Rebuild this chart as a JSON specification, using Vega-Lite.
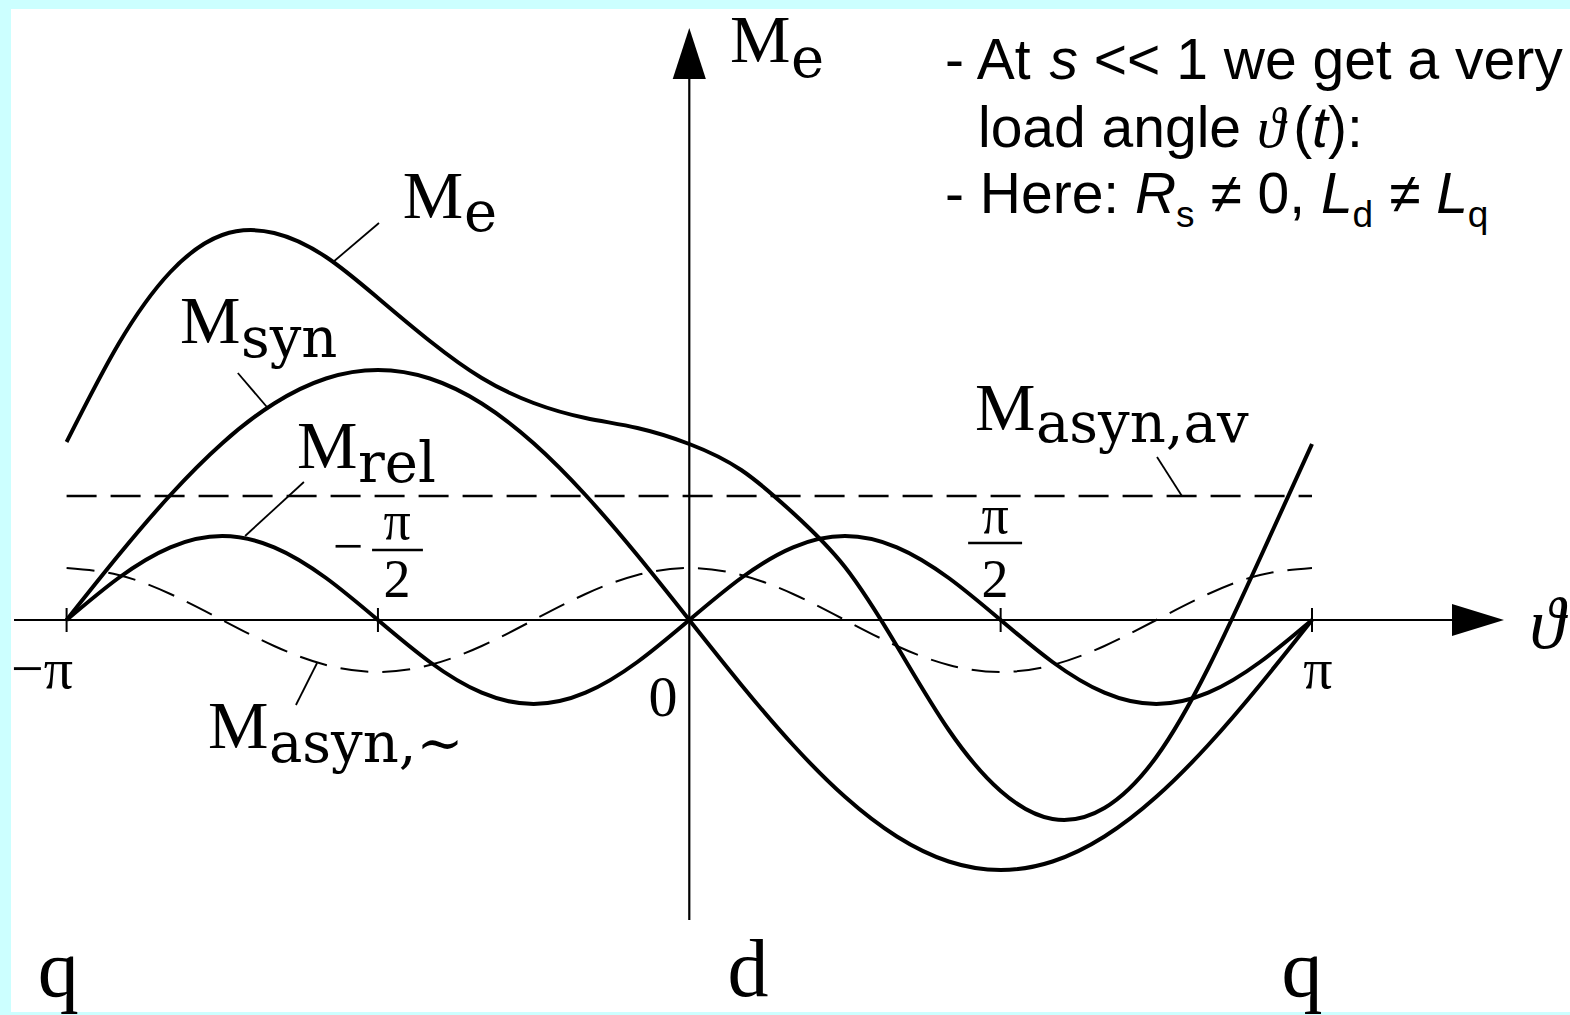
{
  "$schema": "https://vega.github.io/schema/vega-lite/v6.json",
  "width": 1559,
  "height": 1003,
  "autosize": {"type": "none"},
  "padding": {"left": 11, "top": 9, "right": 0, "bottom": 3},
  "background": "#ccffff",
  "config": {"view": {"fill": "white", "stroke": null}},
  "datasets": {
    "torque": [
      {"t": -180, "Me": 1.78, "syn": 0, "rel": 0, "asyn": 0.52},
      {"t": -165, "Me": 2.76, "syn": 0.647, "rel": 0.42, "asyn": 0.45},
      {"t": -150, "Me": 3.48, "syn": 1.25, "rel": 0.727, "asyn": 0.26},
      {"t": -135, "Me": 3.85, "syn": 1.768, "rel": 0.84, "asyn": 0},
      {"t": -120, "Me": 3.87, "syn": 2.165, "rel": 0.727, "asyn": -0.26},
      {"t": -105, "Me": 3.63, "syn": 2.415, "rel": 0.42, "asyn": -0.45},
      {"t": -90, "Me": 3.22, "syn": 2.5, "rel": 0, "asyn": -0.52},
      {"t": -75, "Me": 2.79, "syn": 2.415, "rel": -0.42, "asyn": -0.45},
      {"t": -60, "Me": 2.42, "syn": 2.165, "rel": -0.727, "asyn": -0.26},
      {"t": -45, "Me": 2.17, "syn": 1.768, "rel": -0.84, "asyn": 0},
      {"t": -30, "Me": 2.02, "syn": 1.25, "rel": -0.727, "asyn": 0.26},
      {"t": -15, "Me": 1.92, "syn": 0.647, "rel": -0.42, "asyn": 0.45},
      {"t": 0, "Me": 1.76, "syn": 0, "rel": 0, "asyn": 0.52},
      {"t": 15, "Me": 1.5, "syn": -0.647, "rel": 0.42, "asyn": 0.45},
      {"t": 30, "Me": 1.07, "syn": -1.25, "rel": 0.727, "asyn": 0.26},
      {"t": 45, "Me": 0.53, "syn": -1.768, "rel": 0.84, "asyn": 0},
      {"t": 60, "Me": -0.26, "syn": -2.165, "rel": 0.727, "asyn": -0.26},
      {"t": 75, "Me": -1.1, "syn": -2.415, "rel": 0.42, "asyn": -0.45},
      {"t": 90, "Me": -1.71, "syn": -2.5, "rel": 0, "asyn": -0.52},
      {"t": 105, "Me": -1.99, "syn": -2.415, "rel": -0.42, "asyn": -0.45},
      {"t": 120, "Me": -1.88, "syn": -2.165, "rel": -0.727, "asyn": -0.26},
      {"t": 135, "Me": -1.37, "syn": -1.768, "rel": -0.84, "asyn": 0},
      {"t": 150, "Me": -0.48, "syn": -1.25, "rel": -0.727, "asyn": 0.26},
      {"t": 165, "Me": 0.62, "syn": -0.647, "rel": -0.42, "asyn": 0.45},
      {"t": 180, "Me": 1.76, "syn": 0, "rel": 0, "asyn": 0.52}
    ],
    "average": [
      {"t": -180, "m": 1.24},
      {"t": 180, "m": 1.24}
    ],
    "axes": [
      {"t": -195.2, "m": 0, "t2": 222.8, "m2": 0},
      {"t": 0, "m": -3.0, "t2": 0, "m2": 5.5}
    ],
    "ticks": [
      {"t": -180, "m": -0.12, "t2": -180, "m2": 0.12},
      {"t": -90, "m": -0.12, "t2": -90, "m2": 0.12},
      {"t": 90, "m": -0.12, "t2": 90, "m2": 0.12},
      {"t": 180, "m": -0.12, "t2": 180, "m2": 0.12}
    ],
    "fractionBars": [
      {"t": -91.7, "m": 0.7, "t2": -77.0, "m2": 0.7},
      {"t": 80.6, "m": 0.77, "t2": 96.2, "m2": 0.77}
    ],
    "leaders": [
      {"t": -89.7, "m": 3.97, "t2": -103.3, "m2": 3.57},
      {"t": -130.5, "m": 2.47, "t2": -122.1, "m2": 2.13},
      {"t": -111.4, "m": 1.38, "t2": -128.4, "m2": 0.84},
      {"t": -107.6, "m": -0.43, "t2": -113.7, "m2": -0.85},
      {"t": 135.2, "m": 1.63, "t2": 142.4, "m2": 1.24}
    ],
    "bigM": [
      {"t": 11.77, "m": 5.58, "label": "M"},
      {"t": -82.84, "m": 4.02, "label": "M"},
      {"t": -147.23, "m": 2.77, "label": "M"},
      {"t": -113.4, "m": 1.52, "label": "M"},
      {"t": -139.14, "m": -1.28, "label": "M"},
      {"t": 82.59, "m": 1.9, "label": "M"}
    ],
    "subscripts": [
      {"t": 29.38, "m": 5.43, "label": "e"},
      {"t": -65.13, "m": 3.89, "label": "e"},
      {"t": -129.59, "m": 2.63, "label": "syn"},
      {"t": -95.75, "m": 1.38, "label": "rel"},
      {"t": -121.5, "m": -1.42, "label": "asyn,~"},
      {"t": 100.19, "m": 1.78, "label": "asyn,av"}
    ],
    "tickLabels": [
      {"t": -187.11, "m": -0.68, "label": "−π"},
      {"t": 181.74, "m": -0.68, "label": "π"},
      {"t": -7.61, "m": -0.96, "label": "0"}
    ],
    "fractions": [
      {"t": -84.49, "m": 0.81, "label": "π"},
      {"t": -84.49, "m": 0.23, "label": "2"},
      {"t": -98.66, "m": 0.56, "label": "−"},
      {"t": 88.37, "m": 0.87, "label": "π"},
      {"t": 88.37, "m": 0.23, "label": "2"}
    ],
    "axisNames": [
      {"t": -182.4, "m": -3.76, "label": "q"},
      {"t": 16.97, "m": -3.76, "label": "d"},
      {"t": 177.1, "m": -3.76, "label": "q"}
    ],
    "angleName": [
      {"t": 242.9, "m": -0.28, "label": "ϑ"}
    ],
    "notesRegular": [
      {"t": 73.91, "m": 5.41, "label": "- At"},
      {"t": 116.93, "m": 5.41, "label": "<< 1 we get a very"},
      {"t": 83.45, "m": 4.73, "label": "load angle"},
      {"t": 174.6, "m": 4.73, "label": "("},
      {"t": 184.6, "m": 4.73, "label": "):"},
      {"t": 73.91, "m": 4.07, "label": "- Here:"},
      {"t": 150.66, "m": 4.07, "label": "≠ 0,"},
      {"t": 202.3, "m": 4.07, "label": "≠"}
    ],
    "notesItalic": [
      {"t": 104.12, "m": 5.41, "label": "s"},
      {"t": 180.0, "m": 4.73, "label": "t"},
      {"t": 128.83, "m": 4.07, "label": "R"},
      {"t": 182.6, "m": 4.07, "label": "L"},
      {"t": 215.9, "m": 4.07, "label": "L"}
    ],
    "notesTheta": [
      {"t": 164.1, "m": 4.73, "label": "ϑ"}
    ],
    "notesSub": [
      {"t": 140.68, "m": 3.93, "label": "s"},
      {"t": 191.74, "m": 3.93, "label": "d"},
      {"t": 225.0, "m": 3.93, "label": "q"}
    ],
    "arrowUp": [{"t": 0, "m": 5.665}],
    "arrowRight": [{"t": 227.98, "m": 0}]
  },
  "encoding": {
    "x": {"field": "t", "type": "quantitative", "scale": {"domain": [-196.07, 254.58], "nice": false, "zero": false}, "axis": null},
    "y": {"field": "m", "type": "quantitative", "scale": {"domain": [-3.92, 6.11], "nice": false, "zero": false}, "axis": null}
  },
  "layer": [
    {
      "data": {"name": "average"},
      "mark": {"type": "line", "color": "black", "strokeWidth": 2.4, "strokeDash": [30, 14]},
      "encoding": {}
    },
    {
      "data": {"name": "torque"},
      "mark": {"type": "line", "color": "black", "strokeWidth": 2, "strokeDash": [28, 14], "interpolate": "natural"},
      "encoding": {"y": {"field": "asyn", "type": "quantitative"}}
    },
    {
      "data": {"name": "axes"},
      "mark": {"type": "rule", "color": "black", "strokeWidth": 2.2},
      "encoding": {"x2": {"field": "t2"}, "y2": {"field": "m2"}}
    },
    {
      "data": {"name": "ticks"},
      "mark": {"type": "rule", "color": "black", "strokeWidth": 2},
      "encoding": {"x2": {"field": "t2"}, "y2": {"field": "m2"}}
    },
    {
      "data": {"name": "torque"},
      "transform": [{"fold": ["Me", "syn", "rel"], "as": ["curve", "m"]}],
      "mark": {"type": "line", "color": "black", "strokeWidth": 4, "interpolate": "natural"},
      "encoding": {"detail": {"field": "curve"}}
    },
    {
      "data": {"name": "fractionBars"},
      "mark": {"type": "rule", "color": "black", "strokeWidth": 2.5},
      "encoding": {"x2": {"field": "t2"}, "y2": {"field": "m2"}}
    },
    {
      "data": {"name": "leaders"},
      "mark": {"type": "rule", "color": "black", "strokeWidth": 1.8},
      "encoding": {"x2": {"field": "t2"}, "y2": {"field": "m2"}}
    },
    {
      "data": {"name": "arrowUp"},
      "mark": {"type": "point", "shape": "M -0.65 1 L 0 -1 L 0.65 1 Z", "size": 2601, "filled": true, "color": "black", "opacity": 1, "strokeWidth": 0}
    },
    {
      "data": {"name": "arrowRight"},
      "mark": {"type": "point", "shape": "M -1 -0.62 L 1 0 L -1 0.62 Z", "size": 2704, "filled": true, "color": "black", "opacity": 1, "strokeWidth": 0}
    },
    {
      "data": {"name": "bigM"},
      "mark": {"type": "text", "font": "Liberation Serif", "fontSize": 68, "align": "left", "baseline": "alphabetic", "color": "black"},
      "encoding": {"text": {"field": "label"}}
    },
    {
      "data": {"name": "subscripts"},
      "mark": {"type": "text", "font": "DejaVu Serif", "fontSize": 56, "align": "left", "baseline": "alphabetic", "color": "black"},
      "encoding": {"text": {"field": "label"}}
    },
    {
      "data": {"name": "tickLabels"},
      "mark": {"type": "text", "font": "Liberation Serif", "fontSize": 58, "align": "center", "baseline": "alphabetic", "color": "black"},
      "encoding": {"text": {"field": "label"}}
    },
    {
      "data": {"name": "fractions"},
      "mark": {"type": "text", "font": "Liberation Serif", "fontSize": 54, "align": "center", "baseline": "alphabetic", "color": "black"},
      "encoding": {"text": {"field": "label"}}
    },
    {
      "data": {"name": "axisNames"},
      "mark": {"type": "text", "font": "Liberation Serif", "fontSize": 82, "align": "center", "baseline": "alphabetic", "color": "black"},
      "encoding": {"text": {"field": "label"}}
    },
    {
      "data": {"name": "angleName"},
      "mark": {"type": "text", "font": "Liberation Serif", "fontSize": 72, "fontStyle": "italic", "align": "left", "baseline": "alphabetic", "color": "black"},
      "encoding": {"text": {"field": "label"}}
    },
    {
      "data": {"name": "notesRegular"},
      "mark": {"type": "text", "font": "Liberation Sans", "fontSize": 57, "align": "left", "baseline": "alphabetic", "color": "black"},
      "encoding": {"text": {"field": "label"}}
    },
    {
      "data": {"name": "notesItalic"},
      "mark": {"type": "text", "font": "Liberation Sans", "fontSize": 57, "fontStyle": "italic", "align": "left", "baseline": "alphabetic", "color": "black"},
      "encoding": {"text": {"field": "label"}}
    },
    {
      "data": {"name": "notesTheta"},
      "mark": {"type": "text", "font": "Liberation Serif", "fontSize": 57, "fontStyle": "italic", "align": "left", "baseline": "alphabetic", "color": "black"},
      "encoding": {"text": {"field": "label"}}
    },
    {
      "data": {"name": "notesSub"},
      "mark": {"type": "text", "font": "Liberation Sans", "fontSize": 37, "align": "left", "baseline": "alphabetic", "color": "black"},
      "encoding": {"text": {"field": "label"}}
    }
  ]
}
